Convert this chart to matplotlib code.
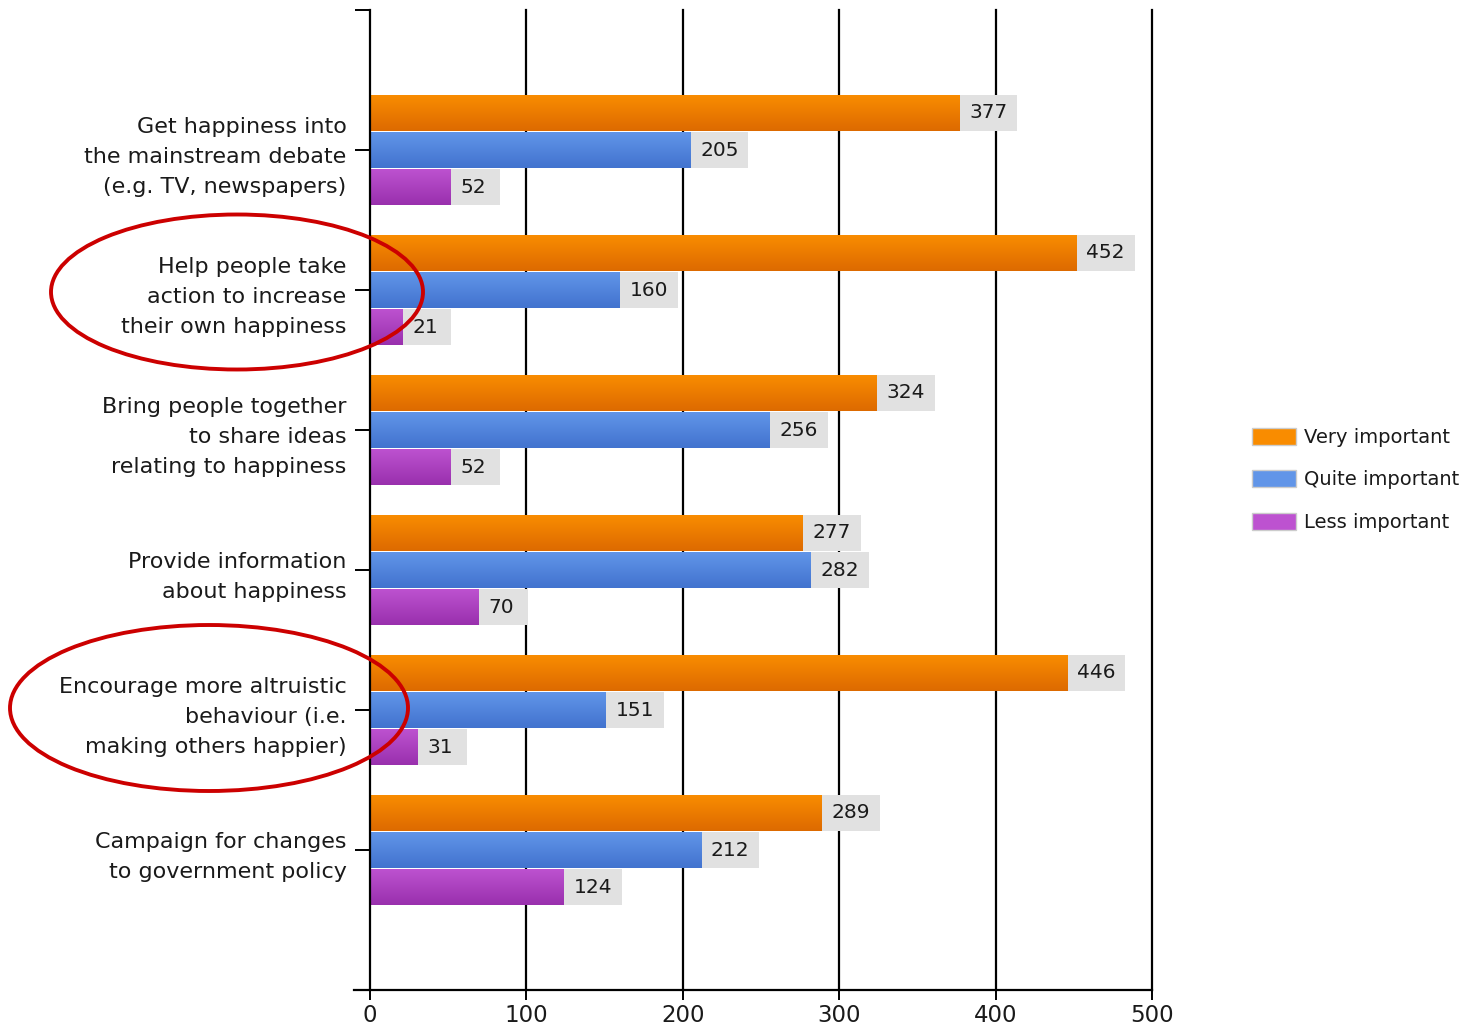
import matplotlib
matplotlib.use("Agg")
import matplotlib.pyplot as plt
import numpy as np
from matplotlib.colors import LinearSegmentedColormap
from matplotlib.patches import Ellipse, Patch

categories = [
    "Get happiness into\nthe mainstream debate\n(e.g. TV, newspapers)",
    "Help people take\naction to increase\ntheir own happiness",
    "Bring people together\nto share ideas\nrelating to happiness",
    "Provide information\nabout happiness",
    "Encourage more altruistic\nbehaviour (i.e.\nmaking others happier)",
    "Campaign for changes\nto government policy",
]
series_names = ["Very important", "Quite important", "Less important"]
very_important = [377, 452, 324, 277, 446, 289]
quite_important = [205, 160, 256, 282, 151, 212]
less_important = [52, 21, 52, 70, 31, 124]
x_ticks = [0, 100, 200, 300, 400, 500]
circled = [1, 4]

series = [very_important, quite_important, less_important]
# light top / dark bottom of each gradient
shades = [("#f98c00", "#dd6a00"), ("#6195e8", "#4273cf"), ("#bd52d0", "#9930ad")]
offsets = [-0.265, 0.0, 0.265]
bar_h = 0.255

plt.rcParams["font.family"] = ["DejaVu Sans"]
fig = plt.figure(figsize=(14.65, 10.32), dpi=100)
ax = fig.add_axes([370 / 1465, 42 / 1032, 782 / 1465, 980 / 1032])

y = np.arange(1, len(categories) + 1)
for vals, (c1, c2), off in zip(series, shades, offsets):
    cmap = LinearSegmentedColormap.from_list("g", [c1, c2])
    grad = np.linspace(0, 1, 64).reshape(-1, 1)
    for yi, v in zip(y, vals):
        y0 = yi + off - bar_h / 2
        y1 = yi + off + bar_h / 2
        ax.imshow(grad, cmap=cmap, extent=[0, v, y1, y0], aspect="auto",
                  origin="upper", zorder=2, interpolation="bilinear")
        label = str(v)
        box_w = 37 if len(label) >= 3 else 31
        ax.barh(yi + off, box_w, left=v, height=bar_h, color="#e1e1e1",
                zorder=2, linewidth=0)
        ax.text(v + 6, yi + off, label, va="center", ha="left",
                fontsize=14.5, color="#1a1a1a", zorder=3)

ax.set_xlim(0, 500)
ax.set_ylim(7, 0)
for xv in x_ticks[1:]:
    ax.axvline(xv, color="black", linewidth=1.6, zorder=1, clip_on=False)

ax.set_xticks(x_ticks)
ax.set_xticklabels([str(t) for t in x_ticks])
ax.set_yticks(list(range(0, 8)))
ax.set_yticklabels([""] + categories + [""])
ax.tick_params(axis="y", length=11, width=1.4, pad=6, labelsize=16,
               labelcolor="#1a1a1a")
ax.tick_params(axis="x", length=7, width=1.4, pad=3, labelsize=16.5,
               labelcolor="#1a1a1a")
for lab in ax.get_yticklabels():
    lab.set_linespacing(1.62)
for s in ["top", "right"]:
    ax.spines[s].set_visible(False)
ax.spines["left"].set_linewidth(1.6)
ax.spines["bottom"].set_linewidth(1.6)
ax.spines["bottom"].set_bounds(-10, 500)

handles = [Patch(facecolor=c1, edgecolor="#cccccc", linewidth=1.0) for c1, c2 in shades]
fig.legend(handles, series_names, loc="upper left",
           bbox_to_anchor=(1252 / 1465, 1 - 428 / 1032), frameon=False,
           fontsize=14, handlelength=2.25, handleheight=0.95,
           labelspacing=1.2, handletextpad=0.45, borderpad=0,
           borderaxespad=0, labelcolor="#1a1a1a")

# red ellipses round the highlighted labels
ellipse_boxes = {1: (237, 292, 372, 155), 4: (209, 708, 398, 166)}
for idx in circled:
    cx, cy, w, h = ellipse_boxes[idx]
    e = Ellipse((cx / 1465, 1 - cy / 1032), w / 1465, h / 1032,
                transform=fig.transFigure, fill=False, edgecolor="#cc0000",
                linewidth=2.8, zorder=10)
    fig.patches.append(e)

fig.savefig("out.png", dpi=100)
